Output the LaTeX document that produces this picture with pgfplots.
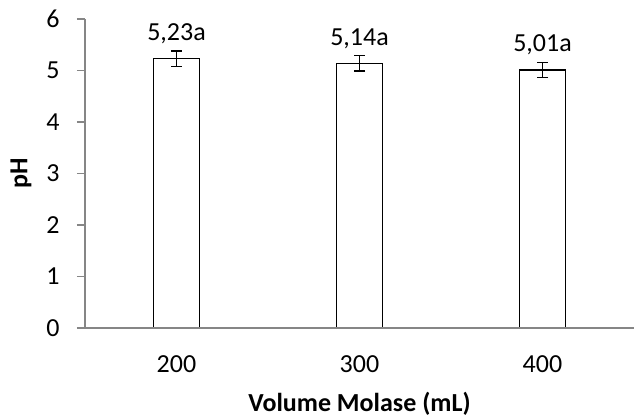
\documentclass[border=0pt]{standalone}
\usepackage{pgfplots}
\pgfplotsset{compat=1.18}
\usepackage{fontspec}
\setmainfont{Carlito}
\definecolor{axgray}{RGB}{134,134,134}
\begin{document}
\begin{tikzpicture}
\useasboundingbox (-85pt,-89pt) rectangle (557pt,328pt);
\begin{axis}[
  scale only axis, width=549pt, height=309pt,
  xmin=-0.5, xmax=2.5, ymin=0, ymax=6,
  axis lines*=left,
  axis on top,
  axis line style={axgray, line width=1.2pt},
  ytick={0,1,2,3,4,5,6},
  xtick={0,1,2}, xticklabels={200,300,400},
  tick align=outside,
  major tick length=8pt,
  y tick style={axgray, line width=1.2pt},
  x tick style={draw=none},
  /pgf/number format/assume math mode=true,
  ticklabel style={font=\fontsize{26}{30}\selectfont},
  yticklabel style={xshift=-14pt},
  xticklabel style={yshift=-16pt},
  xlabel={\textbf{Volume Molase (mL)}},
  ylabel={\textbf{pH}},
  label style={font=\fontsize{26}{30}\selectfont},
  xlabel style={yshift=-13pt},
  ylabel style={yshift=8pt},
  ybar, bar width=46pt,
  nodes near coords,
  point meta=explicit symbolic,
  nodes near coords style={font=\fontsize{26}{30}\selectfont, anchor=base, yshift=18pt, black},
]
\addplot[fill=white, draw=black, line width=1.3pt,
  error bars/.cd, y dir=both, y explicit,
  error bar style={black, line width=1.3pt},
  error mark options={rotate=90, mark size=5.5pt, black, line width=1.3pt}]
  table[x=x, y=y, y error=err, meta=label] {
x y err label
0 5.23 0.15 5,23a
1 5.14 0.15 5,14a
2 5.01 0.15 5,01a
};
\end{axis}
\end{tikzpicture}
\end{document}
